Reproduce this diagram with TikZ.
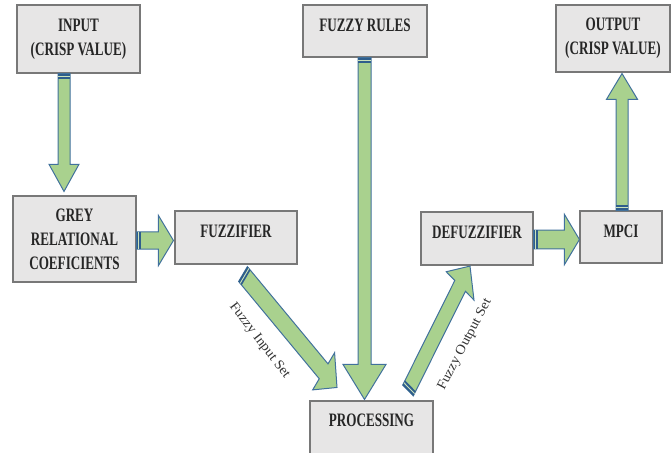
\documentclass[tikz,border=0pt]{standalone}
\usepackage{fontspec}
\usepackage{tikz}
\usetikzlibrary{calc,positioning}
\newfontfamily\boxfont[FakeStretch=0.69]{Liberation Serif}
\newfontfamily\lblfont[FakeStretch=1.07]{Liberation Serif}
\definecolor{arrfill}{RGB}{169,209,142}
\definecolor{arrline}{RGB}{65,113,156}
\definecolor{arrband}{RGB}{46,94,140}
\definecolor{boxfill}{RGB}{231,230,230}
\definecolor{boxline}{RGB}{120,120,120}
\def\yk{1.43}
\newcommand{\fatarrow}[5]{%
  \path let \p1=(#1), \p2=(#2),
      \n1={veclen(\x2-\x1,(\y2-(\y1))/\yk)},
      \n2={(\x2-\x1)/\n1}, \n3={(\y2-(\y1))/\yk/\n1}, \n4={\n1-#5pt}
    in ({\x1-#3*\n3},{\y1+\yk*#3*\n2}) coordinate (fa-l0)
       ({\x1+#3*\n3},{\y1-\yk*#3*\n2}) coordinate (fa-r0)
       ({\x1+4*\n2-#3*\n3},{\y1+\yk*(4*\n3+#3*\n2)}) coordinate (fa-lb)
       ({\x1+4*\n2+#3*\n3},{\y1+\yk*(4*\n3-#3*\n2)}) coordinate (fa-rb)
       ({\x1+2*\n2-#3*\n3},{\y1+\yk*(2*\n3+#3*\n2)}) coordinate (fa-lm)
       ({\x1+2*\n2+#3*\n3},{\y1+\yk*(2*\n3-#3*\n2)}) coordinate (fa-rm)
       ({\x1+\n4*\n2-#3*\n3},{\y1+\yk*(\n4*\n3+#3*\n2)}) coordinate (fa-l1)
       ({\x1+\n4*\n2+#3*\n3},{\y1+\yk*(\n4*\n3-#3*\n2)}) coordinate (fa-r1)
       ({\x1+\n4*\n2-#4*\n3},{\y1+\yk*(\n4*\n3+#4*\n2)}) coordinate (fa-l2)
       ({\x1+\n4*\n2+#4*\n3},{\y1+\yk*(\n4*\n3-#4*\n2)}) coordinate (fa-r2);
  \filldraw[fatbody] (fa-l0) -- (fa-l1) -- (fa-l2) -- (#2) -- (fa-r2) -- (fa-r1) -- (fa-r0) -- cycle;
  \fill[fatband] (fa-l0) -- (fa-lb) -- (fa-rb) -- (fa-r0) -- cycle;
  \draw[fatline] (fa-lm) -- (fa-rm);
}

\begin{document}
\begin{tikzpicture}[x=1pt,y=-1pt,
  blk/.style={draw=boxline,fill=boxfill,line width=1.1pt,inner sep=0pt,align=center,
    font=\boxfont\bfseries\fontsize{19}{24}\selectfont,text=black!85},
  oneline/.style={text height=10pt,text depth=9.4pt},
  lbl/.style={font=\lblfont\fontsize{13.5}{15}\selectfont,text=black!80,inner sep=1pt},
  fatbody/.style={fill=arrfill,draw=arrline,line width=1pt,line join=miter},
  fatband/.style={fill=arrband},
  fatline/.style={draw=arrfill!60!white,line width=0.9pt}]
  \useasboundingbox (0,0) rectangle (671,452);
  \clip (0,0) rectangle (671,452);
  \node[blk,minimum width=123,minimum height=68] (input) at (78.5,39) {INPUT\\(CRISP VALUE)};
  \node[blk,oneline,minimum width=124,minimum height=52] (rules) at (365,31) {FUZZY RULES};
  \node[blk,minimum width=114,minimum height=67] (output) at (613,38.5) {OUTPUT\\(CRISP VALUE)};
  \node[blk,minimum width=123,minimum height=86] (grey) at (74.5,239) {GREY\\RELATIONAL\\COEFICIENTS};
  \node[blk,oneline,minimum width=122,minimum height=53] (fuzz) at (236,237.5) {FUZZIFIER};
  \node[blk,oneline,minimum width=112,minimum height=53] (defuzz) at (477,238.5) {DEFUZZIFIER};
  \node[blk,oneline,minimum width=82,minimum height=52] (mpci) at (621,237) {MPCI};
  \node[blk,text height=10pt,text depth=15.4pt,minimum width=123,minimum height=56] (proc) at (371.5,429) {PROCESSING};
  \coordinate (inT) at ($(input.south)+(-14.5,0)$);
  \coordinate (inH) at ($(grey.north)+(-10.5,-4)$);
  \coordinate (grT) at ($(grey.east)+(0,1.5)$);
  \coordinate (grH) at ($(fuzz.west)+(-1,3)$);
  \coordinate (fzT) at ($(fuzz.south)+(7,9.5)$);
  \coordinate (fzH) at ($(proc.north)+(-34.5,-13)$);
  \coordinate (ruT) at ($(rules.south)+(-0.5,0)$);
  \coordinate (ruH) at ($(proc.north)+(-7,-1)$);
  \coordinate (prT) at ($(proc.north)+(36.5,-10)$);
  \coordinate (prH) at ($(defuzz.south)+(-7,0.5)$);
  \coordinate (dfT) at ($(defuzz.east)+(0,1)$);
  \coordinate (dfH) at ($(mpci.west)+(0,2.5)$);
  \coordinate (mpT) at ($(mpci.north)+(1,0)$);
  \coordinate (mpH) at ($(output.south)+(9,1)$);
  \fatarrow{inT}{inH}{6}{15}{19}
  \fatarrow{grT}{grH}{6}{17.5}{15}
  \fatarrow{fzT}{fzH}{6.8}{17}{17.5}
  \fatarrow{ruT}{ruH}{6.5}{21.5}{24.5}
  \fatarrow{prT}{prH}{6.5}{17}{17}
  \fatarrow{dfT}{dfH}{6.6}{17.5}{15}
  \fatarrow{mpT}{mpH}{6}{15.5}{18}
  \node[lbl,rotate=-52.6] (inset) at (259.5,341) {Fuzzy Input Set};
  \node[lbl,rotate=62.2] (outset) at (465,344.5) {Fuzzy Output Set};
\end{tikzpicture}
\end{document}
